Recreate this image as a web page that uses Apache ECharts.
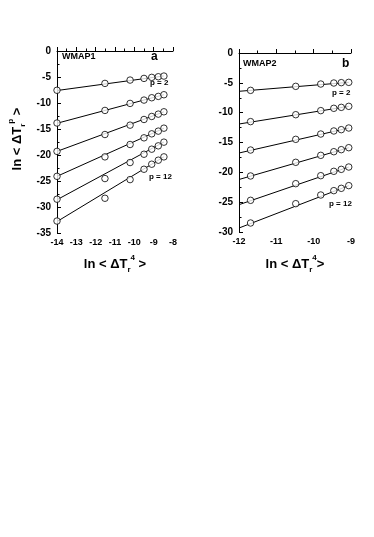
<!DOCTYPE html>
<html><head><meta charset="utf-8">
<script src="https://cdn.jsdelivr.net/npm/echarts@6/dist/echarts.min.js"></script>
<style>html,body{margin:0;padding:0;background:#fff}#c{width:374px;height:537px}</style>
</head><body><div id="c"></div>
<script>
// Panel a (WMAP1)
const xA = [-14, -11.52, -10.22, -9.5, -9.1, -8.76, -8.47];
const a_p2  = [-7.55, -6.23, -5.59, -5.27, -5.07, -4.95, -4.82];
const a_p4  = [-13.85, -11.43, -10.08, -9.44, -8.99, -8.73, -8.41];
const a_p6  = [-19.3, -16.06, -14.26, -13.17, -12.59, -12.14, -11.69];
const a_p8  = [-24.1, -20.36, -17.98, -16.7, -15.93, -15.41, -14.84];
const a_p10 = [-28.5, -24.53, -21.45, -19.85, -18.88, -18.24, -17.53];
const a_p12 = [-32.7, -28.32, -24.73, -22.74, -21.77, -21.0, -20.36];
const lineA_x = [-14, -8.47];
const lineA_start = [-7.6, -13.9, -19.3, -24.1, -28.6, -32.8];
const lineA_end   = [-4.8, -8.4, -11.7, -14.85, -17.5, -20.35];
// Panel b (WMAP2)
const xB = [-11.69, -10.48, -9.81, -9.46, -9.26, -9.06];
const b_p2  = [-6.26, -5.59, -5.2, -5.03, -4.97, -4.92];
const b_p4  = [-11.5, -10.34, -9.66, -9.27, -9.11, -8.94];
const b_p6  = [-16.26, -14.47, -13.58, -13.07, -12.85, -12.57];
const b_p8  = [-20.61, -18.32, -17.15, -16.54, -16.2, -15.87];
const b_p10 = [-24.69, -21.9, -20.56, -19.83, -19.5, -19.11];
const b_p12 = [-28.49, -25.25, -23.8, -23.07, -22.68, -22.23];
const lineB_x = [-12, -9.06];
const lineB_start = [-6.42, -11.9, -16.76, -21.2, -25.42, -29.33];
const lineB_end   = [-4.92, -8.94, -12.57, -15.87, -19.11, -22.23];
const xTicksA = [-14, -13, -12, -11, -10, -9, -8];
const xTicksB = [-12, -11, -10, -9];

const FONT = 'Liberation Sans, Arial, sans-serif';
const chart = echarts.init(document.getElementById('c'), null, {renderer: 'canvas'});

function axisCommon() {
  return {
    axisLine: {show: true, lineStyle: {color: '#000', width: 1}},
    axisTick: {show: true, inside: true, length: 4, lineStyle: {color: '#000', width: 1}},
    minorTick: {show: true, splitNumber: 2, length: 2.5, lineStyle: {color: '#000', width: 1}},
    splitLine: {show: false},
    axisLabel: {color: '#000', fontFamily: FONT, fontWeight: 'bold', fontSize: 10}
  };
}
function xAx(gi, min, max) {
  const o = axisCommon();
  return Object.assign(o, {type: 'value', gridIndex: gi, min: min, max: max, interval: 1,
    axisLabel: Object.assign(o.axisLabel, {margin: 5, fontSize: 9})});
}
function yAx(gi, min) {
  const o = axisCommon();
  return Object.assign(o, {type: 'value', gridIndex: gi, min: min, max: 0, interval: 5,
    axisLabel: Object.assign(o.axisLabel, {margin: 6})});
}
const series = [];
function addScatter(gi, xs, ys) {
  series.push({type: 'scatter', xAxisIndex: gi, yAxisIndex: gi, symbol: 'circle', symbolSize: 6.5,
    itemStyle: {color: '#fff', borderColor: '#000', borderWidth: 1}, z: 3,
    data: xs.map((x, i) => [x, ys[i]])});
}
function addLine(gi, xs, y0, y1) {
  series.push({type: 'line', xAxisIndex: gi, yAxisIndex: gi, showSymbol: false, symbol: 'none',
    lineStyle: {color: '#000', width: 1}, z: 2, silent: true,
    data: [[xs[0], y0], [xs[1], y1]]});
}
[a_p2, a_p4, a_p6, a_p8, a_p10, a_p12].forEach((ys, i) => {
  addLine(0, lineA_x, lineA_start[i], lineA_end[i]);
  addScatter(0, xA, ys);
});
[b_p2, b_p4, b_p6, b_p8, b_p10, b_p12].forEach((ys, i) => {
  addLine(1, lineB_x, lineB_start[i], lineB_end[i]);
  addScatter(1, xB, ys);
});

const rich = {
  big: {fontSize: 13, fontWeight: 'bold', fontFamily: FONT, color: '#000'},
  sub: {fontSize: 8, fontWeight: 'bold', fontFamily: FONT, color: '#000', verticalAlign: 'bottom', lineHeight: 8},
  sup: {fontSize: 8, fontWeight: 'bold', fontFamily: FONT, color: '#000', verticalAlign: 'top', lineHeight: 8}
};
function txt(x, y, text, size, extra) {
  return Object.assign({type: 'text', x: x, y: y, style: {text: text, fontSize: size, fontWeight: 'bold', fontFamily: FONT, fill: '#000', align: 'left', verticalAlign: 'middle'}}, extra || {});
}

chart.setOption({
  animation: false,
  grid: [
    {left: 57, top: 51, width: 116, height: 182},
    {left: 239, top: 53, width: 112, height: 179}
  ],
  xAxis: [xAx(0, -14, -8), xAx(1, -12, -9)],
  yAxis: [yAx(0, -35), yAx(1, -30)],
  series: series,
  graphic: [
    txt(62, 57, 'WMAP1', 9),
    txt(151, 57, 'a', 12),
    txt(150, 83, 'p = 2', 8),
    txt(149, 177, 'p = 12', 8),
    txt(243, 64, 'WMAP2', 9),
    txt(342, 64, 'b', 12),
    txt(332, 93, 'p = 2', 8),
    txt(329, 204, 'p = 12', 8),
    {type: 'text', x: 17, y: 139, rotation: Math.PI / 2,
      style: {text: '{big|ln < ΔT}{sub|r}{sup|p}{big| >}', rich: rich, align: 'center', verticalAlign: 'middle', height: 20, lineHeight: 20}},
    {type: 'text', x: 115, y: 264,
      style: {text: '{big|ln < ΔT}{sub|r}{sup|4}{big| >}', rich: rich, align: 'center', verticalAlign: 'middle', height: 20, lineHeight: 20}},
    {type: 'text', x: 295, y: 264,
      style: {text: '{big|ln < ΔT}{sub|r}{sup|4}{big|>}', rich: rich, align: 'center', verticalAlign: 'middle', height: 20, lineHeight: 20}}
  ]
});
</script>
</body></html>
